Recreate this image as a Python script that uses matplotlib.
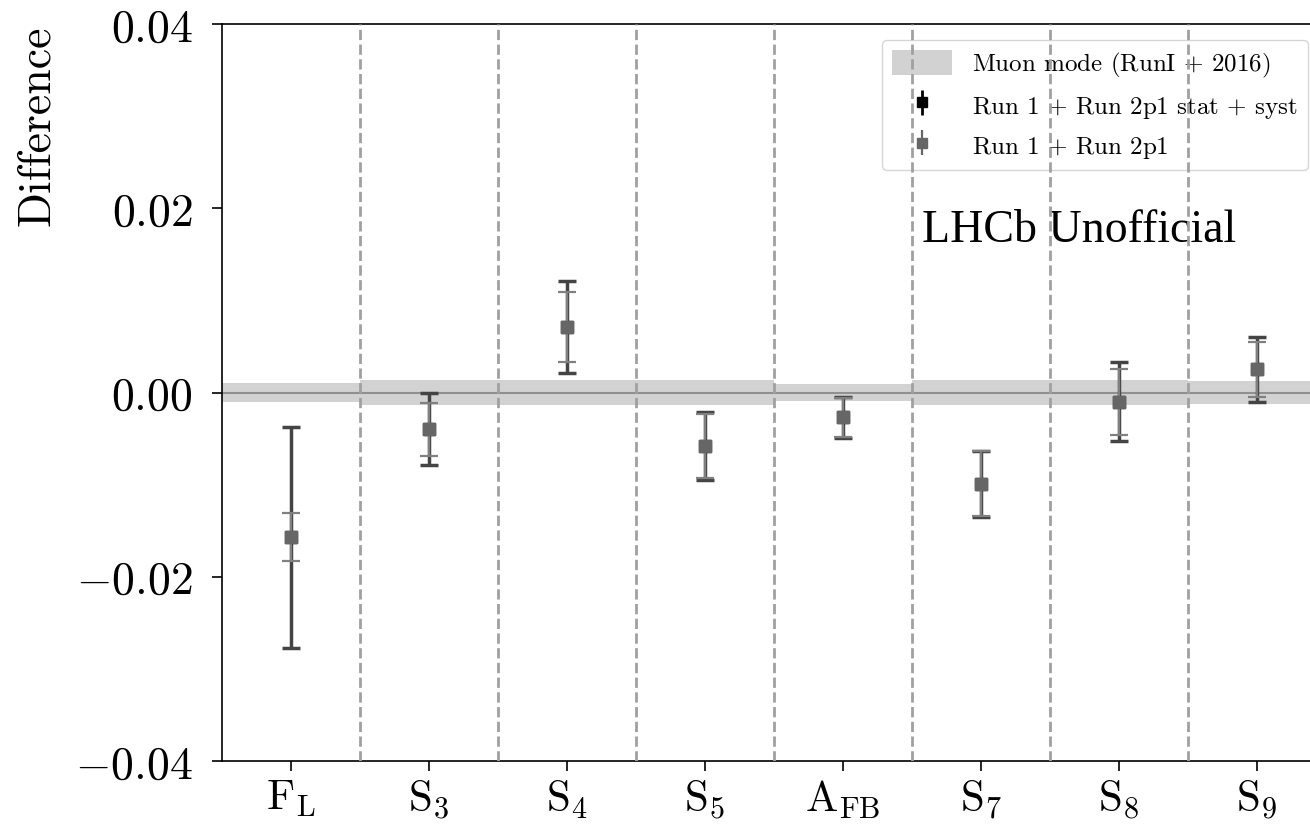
import numpy as np
import matplotlib
matplotlib.use("Agg")
import matplotlib.pyplot as plt
from matplotlib.patches import Patch
from matplotlib.ticker import FuncFormatter

plt.rcParams['font.family'] = 'serif'
plt.rcParams['font.serif'] = ['cmr10']
plt.rcParams['mathtext.fontset'] = 'cm'
plt.rcParams['axes.formatter.use_mathtext'] = True

# observables and differences
obs_labels = [r'$\mathrm{F_L}$', r'$\mathrm{S_3}$', r'$\mathrm{S_4}$', r'$\mathrm{S_5}$',
              r'$\mathrm{A_{FB}}$', r'$\mathrm{S_7}$', r'$\mathrm{S_8}$', r'$\mathrm{S_9}$']
diff = [-0.0157, -0.0040, 0.0071, -0.0058, -0.0027, -0.0099, -0.0010, 0.0025]
err_tot = [0.0120, 0.0039, 0.0050, 0.0037, 0.0022, 0.0036, 0.0043, 0.0035]
err_stat = [0.0026, 0.0029, 0.0038, 0.0035, 0.0021, 0.0035, 0.0036, 0.0030]
# muon mode band half-width per observable
band = [0.0010, 0.0014, 0.0014, 0.0014, 0.0009, 0.0014, 0.0014, 0.0013]

x = np.arange(len(diff))

fig = plt.figure(figsize=(13.1, 8.28), dpi=100)
ax = fig.add_axes([0.1695, 0.0797, 0.8427, 0.8901])

for i, b in enumerate(band):
    ax.fill_between([i - 0.5, i + 0.5], -b, b, color='gray', alpha=0.35, lw=0, zorder=1)
ax.axhline(0, color='gray', lw=1.5, alpha=0.8, zorder=2)

for i in range(len(diff) - 1):
    ax.axvline(i + 0.5, color='#a0a0a0', ls='--', lw=2, zorder=6)

eb_tot = ax.errorbar(x, diff, yerr=err_tot, fmt='s', color='black', ecolor='#444444',
                     elinewidth=2.5, capsize=6.5, capthick=2.5, ms=8.5, zorder=3)
for cap in eb_tot[1]:
    cap.set_color('#222222')
eb_stat = ax.errorbar(x, diff, yerr=err_stat, fmt='s', color='#666666', ecolor='#808080',
                      elinewidth=1.6, capsize=6.5, capthick=1.6, ms=8.5, zorder=4)

ax.set_xlim(-0.5, 7.5)
ax.set_ylim(-0.04, 0.04)
ax.set_yticks([-0.04, -0.02, 0.0, 0.02, 0.04])
ax.yaxis.set_major_formatter(FuncFormatter(lambda v, p: r'$%.2f$' % v))
ax.set_xticks(x)
ax.set_xticklabels(obs_labels)
ax.tick_params(axis='both', labelsize=33, length=7, width=1.2)
ax.tick_params(axis='y', pad=14)
ax.tick_params(axis='x', labelsize=31, pad=5)
ax.spines['right'].set_visible(False)
for s in ['left', 'bottom', 'top']:
    ax.spines[s].set_linewidth(1.2)

ax.set_ylabel('Difference', fontsize=33, loc='top', labelpad=12)

ax.text(4.57, 0.0165, 'LHCb Unofficial', family='Liberation Serif', fontsize=33)

handles = [Patch(facecolor='gray', alpha=0.35, edgecolor='none'),
           ax.errorbar([], [], yerr=[], fmt='s', color='black', ecolor='black',
                       capsize=6, ms=7, elinewidth=2, capthick=2),
           ax.errorbar([], [], yerr=[], fmt='s', color='#666666', ecolor='#666666',
                       capsize=6, ms=7, elinewidth=1.6, capthick=1.6)]
labels = [r'Muon mode (RunI $+$ 2016)', r'Run 1 $+$ Run 2p1 stat $+$ syst', r'Run 1 $+$ Run 2p1']
ax.legend(handles, labels, loc='upper right', fontsize=18, borderaxespad=0,
          handlelength=2.4, handleheight=1.15, labelspacing=0.5,
          bbox_to_anchor=(0.9837, 0.9783))

fig.savefig('out.png', dpi=100)
